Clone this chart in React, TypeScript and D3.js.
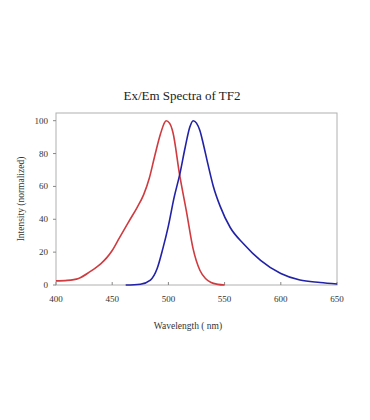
import React, { useEffect, useRef } from 'react';
import * as d3 from 'd3';

// Excitation spectrum (red)
const exWavelengths = [400, 410, 420, 430, 440, 445, 450, 455, 460, 466, 472, 478, 483, 488, 493, 496, 498, 501, 504, 510, 516, 522, 528, 533, 538, 544, 550];
const exValues = [2.5, 2.8, 4, 8, 13, 16.5, 21, 27, 33, 40, 47, 55, 65, 79, 92, 98, 100, 98.5, 93, 67, 45, 22, 9, 4, 1.5, 0.4, 0];

// Emission spectrum (blue)
const emWavelengths = [462, 475, 484, 490, 495, 500, 505, 510, 515, 519, 522, 525, 528, 531, 535, 540, 546, 555, 567, 582, 600, 617, 635, 650];
const emValues = [0, 0.5, 3, 10, 22, 36, 53, 67, 84, 96, 100, 98.5, 94, 86, 74, 60, 48, 35, 25, 15, 7, 3, 1.5, 0.6];

const xTicks = [400, 450, 500, 550, 600, 650];
const yTicks = [0, 20, 40, 60, 80, 100];

const App: React.FC = () => {
  const ref = useRef<SVGSVGElement>(null);

  useEffect(() => {
    if (!ref.current) return;
    const svg = d3.select(ref.current);
    svg.selectAll('*').remove();

    const width = 370;
    const height = 420;
    const left = 56, right = 337, top = 113, bottom = 285;
    const font = '"Liberation Serif", "Times New Roman", serif';

    svg.attr('width', width).attr('height', height);

    const x = d3.scaleLinear().domain([400, 650]).range([left, right]);
    const y = d3.scaleLinear().domain([0, 100]).range([bottom, top + 7.7]);

    // frame
    svg.append('rect')
      .attr('x', left).attr('y', top)
      .attr('width', right - left).attr('height', bottom - top)
      .attr('fill', 'none').attr('stroke', '#b0b0b0').attr('stroke-width', 1);

    // y ticks
    const yAxis = svg.append('g');
    yTicks.forEach((t) => {
      yAxis.append('line')
        .attr('x1', left - 3).attr('x2', left)
        .attr('y1', y(t)).attr('y2', y(t))
        .attr('stroke', '#888');
      yAxis.append('text')
        .attr('x', left - 8).attr('y', y(t) + 3)
        .attr('text-anchor', 'end')
        .style('font-family', font).style('font-size', '9px').style('fill', '#333')
        .text(t);
    });

    // x ticks
    const xAxis = svg.append('g');
    xTicks.forEach((t) => {
      xAxis.append('line')
        .attr('x1', x(t)).attr('x2', x(t))
        .attr('y1', bottom - 3).attr('y2', bottom)
        .attr('stroke', '#888');
      xAxis.append('text')
        .attr('x', x(t)).attr('y', bottom + 17)
        .attr('text-anchor', 'middle')
        .style('font-family', font).style('font-size', '9px').style('fill', '#333')
        .text(t);
    });

    const line = d3.line<number>()
      .curve(d3.curveMonotoneX);

    // excitation
    svg.append('path')
      .attr('d', line.x((_, i) => x(exWavelengths[i])).y((d) => y(d))(exValues))
      .attr('fill', 'none')
      .attr('stroke', '#cf3b3f')
      .attr('stroke-width', 1.6);

    // emission
    svg.append('path')
      .attr('d', line.x((_, i) => x(emWavelengths[i])).y((d) => y(d))(emValues))
      .attr('fill', 'none')
      .attr('stroke', '#2222a8')
      .attr('stroke-width', 1.6);

    // title
    svg.append('text')
      .attr('x', 182).attr('y', 100)
      .attr('text-anchor', 'middle')
      .style('font-family', font).style('font-size', '13px').style('fill', '#222')
      .text('Ex/Em Spectra of TF2');

    // axis labels
    svg.append('text')
      .attr('transform', `translate(24,${(top + bottom) / 2}) rotate(-90)`)
      .attr('text-anchor', 'middle')
      .style('font-family', font).style('font-size', '9.5px').style('fill', '#333')
      .text('Intensity (normalized)');

    svg.append('text')
      .attr('x', 188).attr('y', 329)
      .attr('text-anchor', 'middle')
      .style('font-family', font).style('font-size', '9.5px').style('fill', '#333')
      .text('Wavelength ( nm)');
  }, []);

  return (
    <div style={{ position: 'absolute', left: 0, top: 0 }}>
      <svg ref={ref}></svg>
    </div>
  );
};

export default App;
